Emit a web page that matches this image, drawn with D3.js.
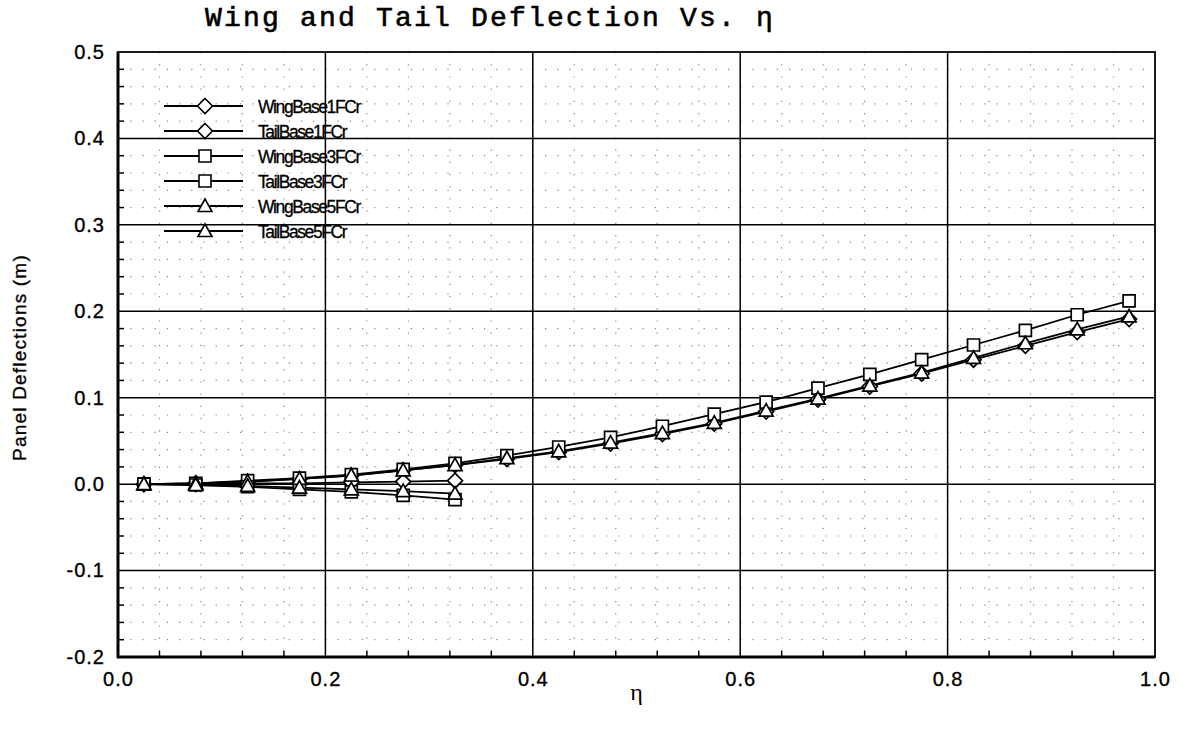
<!DOCTYPE html>
<html>
<head>
<meta charset="utf-8">
<script src="https://cdn.jsdelivr.net/npm/d3@7/dist/d3.min.js"></script>
<style>
  html, body { margin: 0; padding: 0; background: #fff; }
  svg { display: block; }
</style>
</head>
<body>
<svg id="chart" width="1179" height="730"></svg>
<script>
// Span-wise station positions (eta)
const etaWing = [0.025, 0.075, 0.125, 0.175, 0.225, 0.275, 0.325, 0.375, 0.425, 0.475,
                 0.525, 0.575, 0.625, 0.675, 0.725, 0.775, 0.825, 0.875, 0.925, 0.975];
const etaTail = [0.025, 0.075, 0.125, 0.175, 0.225, 0.275, 0.325];

// Panel deflections (m)
const wingBase1 = [0, 0.001, 0.003, 0.006, 0.010, 0.016, 0.022, 0.029, 0.037, 0.047,
                   0.058, 0.070, 0.084, 0.098, 0.113, 0.128, 0.144, 0.160, 0.176, 0.191];
const tailBase1 = [0, 0, 0.001, 0.001, 0.002, 0.003, 0.004];
const wingBase3 = [0, 0.001, 0.004, 0.007, 0.011, 0.017, 0.024, 0.033, 0.043, 0.054,
                   0.067, 0.081, 0.095, 0.111, 0.127, 0.144, 0.161, 0.178, 0.196, 0.212];
const tailBase3 = [0, -0.001, -0.003, -0.006, -0.009, -0.013, -0.018];
const wingBase5 = [0, 0.001, 0.003, 0.006, 0.010, 0.016, 0.022, 0.030, 0.038, 0.048,
                   0.059, 0.071, 0.085, 0.099, 0.114, 0.129, 0.146, 0.163, 0.179, 0.194];
const tailBase5 = [0, -0.001, -0.002, -0.004, -0.006, -0.008, -0.011];

const seriesNames = ["WingBase1FCr", "TailBase1FCr", "WingBase3FCr", "TailBase3FCr", "WingBase5FCr", "TailBase5FCr"];
const seriesMarkers = ["diamond", "diamond", "square", "square", "triangle", "triangle"];

const xTicks = [0.0, 0.2, 0.4, 0.6, 0.8, 1.0];
const yTicks = [-0.2, -0.1, 0.0, 0.1, 0.2, 0.3, 0.4, 0.5];

const series = [
  { name: seriesNames[0], marker: seriesMarkers[0], x: etaWing, y: wingBase1 },
  { name: seriesNames[1], marker: seriesMarkers[1], x: etaTail, y: tailBase1 },
  { name: seriesNames[2], marker: seriesMarkers[2], x: etaWing, y: wingBase3 },
  { name: seriesNames[3], marker: seriesMarkers[3], x: etaTail, y: tailBase3 },
  { name: seriesNames[4], marker: seriesMarkers[4], x: etaWing, y: wingBase5 },
  { name: seriesNames[5], marker: seriesMarkers[5], x: etaTail, y: tailBase5 }
];

const svg = d3.select("#chart");
const plot = { left: 118, right: 1155, top: 52, bottom: 657 };

const x = d3.scaleLinear().domain([0, 1]).range([plot.left, plot.right]);
const y = d3.scaleLinear().domain([-0.2, 0.5]).range([plot.bottom, plot.top]);

const font = "Liberation Sans, Arial, Helvetica, sans-serif";
const fmt = v => d3.format(".1f")(v).replace("\u2212", "-");

// Dotted minor grid
const xMinor = d3.range(0, 1.0001, 0.04).filter(v => Math.abs(v / 0.2 - Math.round(v / 0.2)) > 1e-6);
const yMinor = d3.range(-0.2, 0.5001, 0.02).filter(v => Math.abs(v / 0.1 - Math.round(v / 0.1)) > 1e-6);
const grid = svg.append("g");
grid.selectAll("line.vx").data(xMinor).join("line")
  .attr("x1", d => x(d)).attr("x2", d => x(d))
  .attr("y1", plot.top).attr("y2", plot.bottom)
  .attr("stroke", "#888").attr("stroke-width", 1.2).attr("stroke-dasharray", "1.2,11");
grid.selectAll("line.hy").data(yMinor).join("line")
  .attr("y1", d => y(d)).attr("y2", d => y(d))
  .attr("x1", plot.left).attr("x2", plot.right)
  .attr("stroke", "#888").attr("stroke-width", 1.2).attr("stroke-dasharray", "1.2,11");

// Major grid
grid.selectAll("line.mx").data(xTicks.slice(1, -1)).join("line")
  .attr("x1", d => x(d)).attr("x2", d => x(d))
  .attr("y1", plot.top).attr("y2", plot.bottom)
  .attr("stroke", "#000").attr("stroke-width", 1.5);
grid.selectAll("line.my").data(yTicks.slice(1, -1)).join("line")
  .attr("y1", d => y(d)).attr("y2", d => y(d))
  .attr("x1", plot.left).attr("x2", plot.right)
  .attr("stroke", "#000").attr("stroke-width", 1.5);

// Axes with inward minor ticks
const xAxis = svg.append("g").attr("transform", `translate(0,${plot.bottom})`)
  .call(d3.axisBottom(x).tickValues(xTicks).tickSize(0).tickPadding(15).tickFormat(fmt));
xAxis.select(".domain").remove();
xAxis.selectAll("text").attr("font-family", font).attr("font-size", 20)
  .attr("letter-spacing", "1px").attr("fill", "#000").attr("stroke", "#000").attr("stroke-width", 0.35);

const yAxis = svg.append("g").attr("transform", `translate(${plot.left},0)`)
  .call(d3.axisLeft(y).tickValues(yTicks).tickSize(0).tickPadding(13).tickFormat(fmt));
yAxis.select(".domain").remove();
yAxis.selectAll("text").attr("font-family", font).attr("font-size", 20)
  .attr("letter-spacing", "1px").attr("fill", "#000").attr("stroke", "#000").attr("stroke-width", 0.35);

svg.append("g").selectAll("line").data(xMinor).join("line")
  .attr("x1", d => x(d)).attr("x2", d => x(d))
  .attr("y1", plot.bottom).attr("y2", plot.bottom - 6)
  .attr("stroke", "#000").attr("stroke-width", 1.5);
svg.append("g").selectAll("line").data(yMinor).join("line")
  .attr("y1", d => y(d)).attr("y2", d => y(d))
  .attr("x1", plot.left).attr("x2", plot.left + 6)
  .attr("stroke", "#000").attr("stroke-width", 1.5);

// Frame
svg.append("rect")
  .attr("x", plot.left).attr("y", plot.top)
  .attr("width", plot.right - plot.left).attr("height", plot.bottom - plot.top)
  .attr("fill", "none").attr("stroke", "#000").attr("stroke-width", 1.8);
svg.append("line").attr("x1", plot.left).attr("x2", plot.left).attr("y1", plot.top).attr("y2", plot.bottom + 1)
  .attr("stroke", "#000").attr("stroke-width", 3);
svg.append("line").attr("x1", plot.left - 1).attr("x2", plot.right).attr("y1", plot.bottom).attr("y2", plot.bottom)
  .attr("stroke", "#000").attr("stroke-width", 3);

// Marker shapes
function markerPath(kind) {
  if (kind === "diamond") return "M0,-7.5L7.5,0L0,7.5L-7.5,0Z";
  if (kind === "square") return "M-6,-6H6V6H-6Z";
  return "M0,-7L7,5.5L-7,5.5Z";
}

const line = d3.line().x(d => x(d[0])).y(d => y(d[1]));
const dataLayer = svg.append("g");
series.forEach(s => {
  const pts = s.x.map((v, i) => [v, s.y[i]]);
  dataLayer.append("path").datum(pts).attr("d", line)
    .attr("fill", "none").attr("stroke", "#000").attr("stroke-width", 1.8);
});
series.forEach(s => {
  const pts = s.x.map((v, i) => [v, s.y[i]]);
  dataLayer.append("g").selectAll("path").data(pts).join("path")
    .attr("transform", d => `translate(${x(d[0])},${y(d[1])})`)
    .attr("d", markerPath(s.marker))
    .attr("fill", "#fff").attr("stroke", "#000").attr("stroke-width", 1.7);
});

// Legend
const legend = svg.append("g");
series.forEach((s, i) => {
  const ly = 106 + i * 25;
  legend.append("line").attr("x1", 164).attr("x2", 243).attr("y1", ly).attr("y2", ly)
    .attr("stroke", "#000").attr("stroke-width", 1.8);
  legend.append("path").attr("transform", `translate(205,${ly})`).attr("d", markerPath(s.marker))
    .attr("fill", "#fff").attr("stroke", "#000").attr("stroke-width", 1.6);
  legend.append("text").attr("x", 258).attr("y", ly + 7)
    .attr("font-family", font).attr("font-size", 17.5).attr("letter-spacing", "-1.4px")
    .attr("stroke", "#000").attr("stroke-width", 0.3)
    .text(s.name);
});

// Titles
svg.append("text").attr("x", 205).attr("y", 26)
  .attr("font-family", "Liberation Mono, Courier New, monospace").attr("font-size", 28)
  .attr("letter-spacing", "2.2px").attr("stroke", "#000").attr("stroke-width", 0.6)
  .text("Wing and Tail Deflection Vs. η");

svg.append("text")
  .attr("transform", `translate(26,${(plot.top + plot.bottom) / 2 + 3}) rotate(-90)`)
  .attr("text-anchor", "middle")
  .attr("font-family", font).attr("font-size", 19).attr("letter-spacing", "1.2px")
  .attr("stroke", "#000").attr("stroke-width", 0.35)
  .text("Panel Deflections (m)");

svg.append("text").attr("x", (plot.left + plot.right) / 2).attr("y", 700)
  .attr("text-anchor", "middle")
  .attr("font-family", "Liberation Serif, Times New Roman, serif").attr("font-size", 24)
  .text("η");
</script>
</body>
</html>
